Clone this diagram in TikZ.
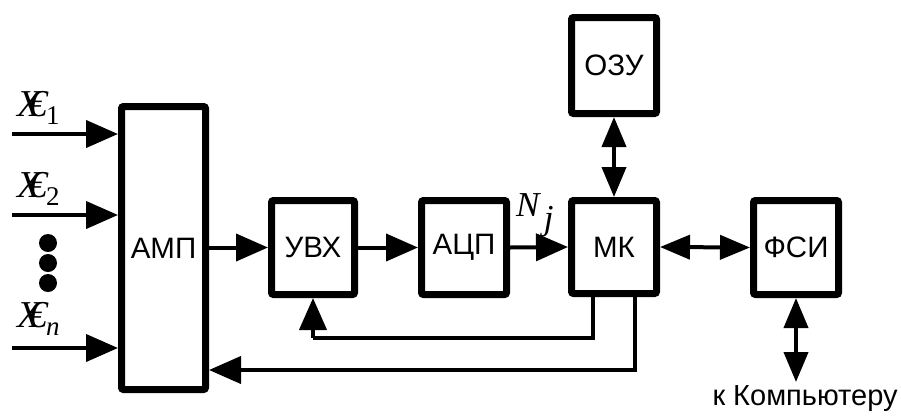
\documentclass[tikz,border=0pt]{standalone}
\usepackage{fontspec}
\setmainfont{Liberation Sans}
\newfontfamily\serifit{Liberation Serif}
\usetikzlibrary{arrows.meta,calc}
\newcommand{\xlab}[1]{{\serifit\itshape\rlap{X}\kern0.3em €}\kern-0.04em\raisebox{-0.22em}{\fontsize{27}{29}\selectfont\serifit #1}}
\begin{document}
\begin{tikzpicture}[x=1pt,y=-1pt,
  blk/.style={draw, line width=7pt, rounded corners=2pt, fill=white, inner sep=0pt, font=\fontsize{29.5}{32}\selectfont},
  conn/.style={line width=4pt, -{Triangle[length=32pt,width=27pt]}},
  biconn/.style={line width=4pt, {Triangle[length=30pt,width=24pt]}-{Triangle[length=30pt,width=24pt]}},
  plain/.style={line width=4pt},
  lab/.style={font=\fontsize{38}{40}\selectfont, inner sep=0pt}]
\useasboundingbox (0,0) rectangle (901,416);
% blocks
\node[blk, minimum width=84pt, minimum height=283pt] (amp) at (163.5,248) {АМП};
\node[blk, minimum width=83pt, minimum height=94pt] (uvx) at (313,247.5) {УВХ};
\node[blk, minimum width=85pt, minimum height=94pt] (acp) at (464,247.5) {АЦП};
\node[blk, minimum width=85pt, minimum height=93pt] (mk) at (614,247) {МК};
\node[blk, minimum width=85pt, minimum height=96pt] (ozu) at (614,65.5) {ОЗУ};
\node[blk, minimum width=85pt, minimum height=94pt] (fsi) at (796,247.5) {ФСИ};
% inputs
\coordinate (in1) at (12,134);
\coordinate (in2) at (12,215);
\coordinate (inn) at (12,348);
\draw[conn] (in1) -- (amp.west |- in1);
\draw[conn] (in2) -- (amp.west |- in2);
\draw[conn] (inn) -- (amp.west |- inn);
\node[lab, anchor=base west] (l1) at (17,116) {\xlab{1}};
\node[lab, anchor=base west] (l2) at (17,197) {\xlab{2}};
\node[lab, anchor=base west] (ln) at (17,327) {\xlab{\itshape n}};
\fill (48,243) circle (9pt);
\fill (48,263) circle (9pt);
\fill (48,283) circle (9pt);
% main chain
\draw[conn] (amp.east |- uvx) -- (uvx.west);
\draw[conn] (uvx.east) -- (acp.west);
\draw[conn] (acp.east) -- (mk.west);
\node[font=\fontsize{35}{37}\selectfont, inner sep=0pt, anchor=base west] (nj) at (516,216) {{\serifit\itshape N}\kern0.12em\raisebox{-0.38em}{\serifit\itshape j}};
\draw[biconn] (mk.east) -- (fsi.west);
\draw[biconn] (ozu.south) -- (mk.north);
% to computer
\node[font=\fontsize{29}{32}\selectfont, inner sep=0pt, anchor=base] (pc) at (805,405) {к Компьютеру};
\coordinate (pcend) at (796,382);
\draw[biconn] (fsi.south) -- (pcend);
% feedback
\coordinate (f1) at ($(mk.south)+(-21,0)$);
\coordinate (f1b) at ($(f1)+(0,41)$);
\draw[plain] (f1) -- (f1b) -- (uvx.south |- f1b) coordinate (f1c);
\draw[conn] (f1c) -- (uvx.south);
\coordinate (f2) at ($(mk.south)+(21,0)$);
\coordinate (f2b) at ($(f2)+(0,73)$);
\draw[conn] (f2) -- (f2b) -- (amp.east |- f2b);
\end{tikzpicture}
\end{document}
